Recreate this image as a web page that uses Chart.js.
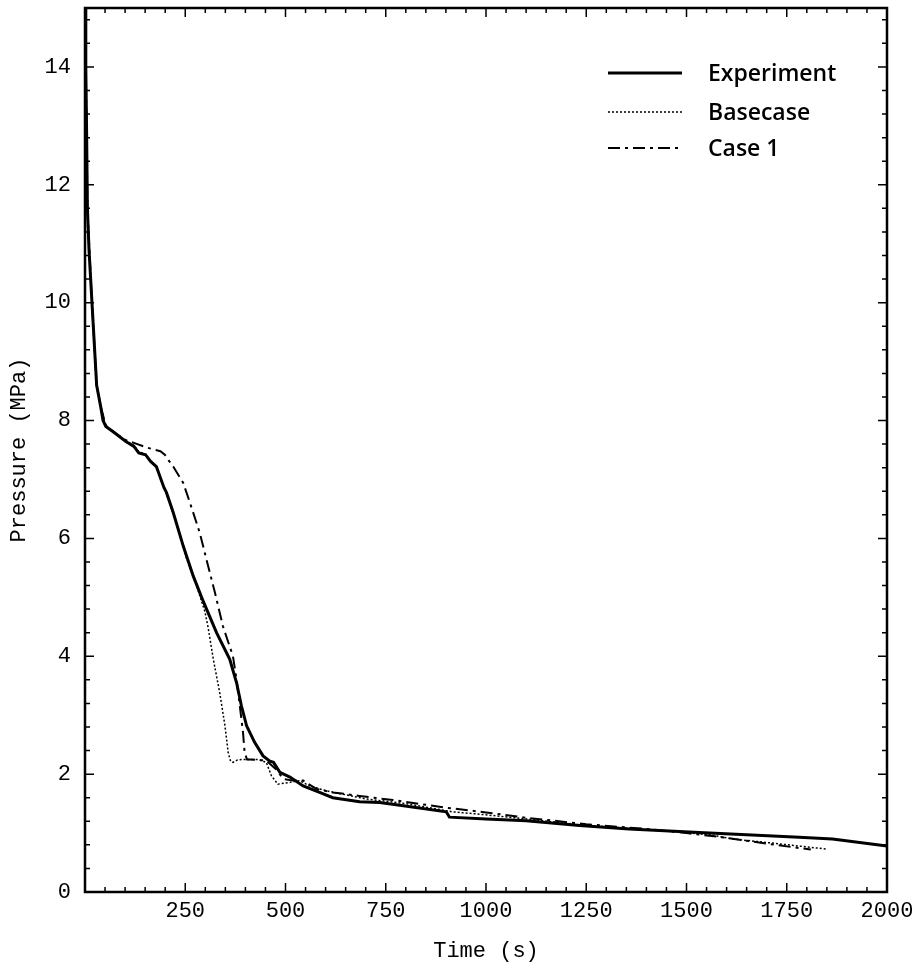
<!DOCTYPE html>
<html>
<head>
<meta charset="utf-8">
<script src="https://cdn.jsdelivr.net/npm/chart.js@4.4.1/dist/chart.umd.min.js"></script>
<style>
  html, body { margin: 0; padding: 0; background: #fff; }
  #wrap { width: 923px; height: 970px; }
</style>
</head>
<body>
<div id="wrap"><canvas id="pressure-chart"></canvas></div>
<script>
// values (time in s, pressure in MPa)
const seriesNames = ['Experiment', 'Basecase', 'Case 1'];

const expTime = [0, 2, 4, 6, 10, 17, 29, 39, 45, 52, 72, 101, 122, 134, 151, 163, 178, 197, 203, 220, 245, 270, 295, 328, 361, 378, 390, 403, 423, 444, 461, 470, 486, 511, 544, 585, 618, 685, 735, 776, 901, 909, 1000, 1100, 1233, 1357, 1532, 1781, 1864, 2000];
const expPressure = [15.0, 14.0, 12.9, 11.6, 10.9, 10.05, 8.6, 8.24, 8.0, 7.9, 7.8, 7.65, 7.56, 7.45, 7.42, 7.31, 7.22, 6.86, 6.78, 6.44, 5.87, 5.36, 4.93, 4.4, 3.95, 3.55, 3.16, 2.82, 2.54, 2.31, 2.22, 2.2, 2.03, 1.95, 1.8, 1.69, 1.6, 1.53, 1.52, 1.48, 1.36, 1.27, 1.24, 1.21, 1.13, 1.07, 1.01, 0.93, 0.9, 0.78];

const baseTime = [0, 4, 6, 17, 29, 39, 52, 72, 101, 122, 134, 151, 163, 178, 203, 220, 245, 253, 278, 299, 307, 320, 336, 349, 357, 363, 369, 380, 394, 432, 452, 465, 481, 511, 535, 560, 600, 700, 800, 917, 984, 1100, 1250, 1400, 1560, 1614, 1700, 1780, 1847];
const basePressure = [15.0, 12.9, 11.6, 10.05, 8.6, 8.24, 7.9, 7.8, 7.66, 7.58, 7.47, 7.43, 7.32, 7.2, 6.76, 6.42, 5.87, 5.66, 5.2, 4.76, 4.49, 3.95, 3.38, 2.82, 2.37, 2.22, 2.2, 2.24, 2.25, 2.25, 2.2, 1.97, 1.83, 1.86, 1.89, 1.8, 1.72, 1.58, 1.5, 1.36, 1.32, 1.24, 1.13, 1.06, 0.97, 0.9, 0.84, 0.78, 0.73];

const case1Time = [0, 4, 6, 17, 29, 39, 52, 72, 101, 122, 155, 188, 199, 213, 220, 245, 262, 286, 303, 324, 344, 369, 378, 386, 394, 398, 404, 411, 452, 477, 494, 519, 544, 577, 618, 685, 768, 901, 1000, 1100, 1250, 1400, 1500, 1600, 1700, 1810];
const case1Pressure = [15.0, 12.9, 11.6, 10.05, 8.6, 8.24, 7.92, 7.8, 7.67, 7.62, 7.54, 7.48, 7.42, 7.28, 7.22, 6.94, 6.6, 6.1, 5.64, 5.08, 4.51, 4.0, 3.6, 3.16, 2.71, 2.37, 2.25, 2.25, 2.23, 2.08, 1.92, 1.89, 1.89, 1.75, 1.69, 1.63, 1.56, 1.43, 1.35, 1.26, 1.15, 1.07, 1.0, 0.92, 0.82, 0.72];

function toPoints(xs, ys) {
  return xs.map((t, i) => ({ x: t, y: ys[i] }));
}

const tickFont = { family: 'Liberation Mono', size: 22 };

// inward tick marks on all four sides + the frame, like the original plot
const frameTicks = {
  id: 'frameTicks',
  afterDatasetsDraw(chart) {
    const { ctx, chartArea: a, scales } = chart;
    const x = scales.x, y = scales.y;
    ctx.save();
    ctx.strokeStyle = '#000';
    ctx.lineWidth = 1.5;
    ctx.beginPath();
    for (let t = 0; t <= 2000; t += 50) {
      const px = x.getPixelForValue(t);
      const len = t % 250 === 0 ? 9 : 5;
      ctx.moveTo(px, a.bottom); ctx.lineTo(px, a.bottom - len);
      ctx.moveTo(px, a.top); ctx.lineTo(px, a.top + len);
    }
    for (let i = 0; i <= 37; i++) {
      const py = y.getPixelForValue(i * 0.4);
      const len = i % 5 === 0 ? 9 : 5;
      ctx.moveTo(a.left, py); ctx.lineTo(a.left + len, py);
      ctx.moveTo(a.right, py); ctx.lineTo(a.right - len, py);
    }
    ctx.stroke();
    ctx.lineWidth = 2.5;
    ctx.strokeRect(a.left, a.top, a.right - a.left, a.bottom - a.top);
    ctx.restore();
  }
};

// legend drawn inside the plot, top right
const insideLegend = {
  id: 'insideLegend',
  afterDraw(chart) {
    const ctx = chart.ctx;
    const rows = [73, 112, 148];
    ctx.save();
    chart.data.datasets.forEach((ds, i) => {
      const yy = rows[i];
      ctx.strokeStyle = ds.borderColor;
      ctx.lineWidth = ds.borderWidth;
      ctx.setLineDash(ds.borderDash || []);
      ctx.beginPath();
      ctx.moveTo(608, yy);
      ctx.lineTo(682, yy);
      ctx.stroke();
      ctx.setLineDash([]);
      ctx.fillStyle = '#000';
      ctx.font = '600 23px "Open Sans"';
      ctx.textBaseline = 'middle';
      ctx.fillText(ds.label, 708, yy + 1);
    });
    ctx.restore();
  }
};

const ctx = document.getElementById('pressure-chart');

new Chart(ctx, {
  type: 'line',
  data: {
    datasets: [
      {
        label: seriesNames[0],
        data: toPoints(expTime, expPressure),
        borderColor: '#000',
        borderWidth: 3,
        pointRadius: 0,
        tension: 0
      },
      {
        label: seriesNames[1],
        data: toPoints(baseTime, basePressure),
        borderColor: '#000',
        borderWidth: 1.5,
        borderDash: [2, 2],
        pointRadius: 0,
        tension: 0
      },
      {
        label: seriesNames[2],
        data: toPoints(case1Time, case1Pressure),
        borderColor: '#000',
        borderWidth: 2,
        borderDash: [12, 5, 3, 5],
        pointRadius: 0,
        tension: 0
      }
    ]
  },
  options: {
    responsive: true,
    maintainAspectRatio: false,
    animation: false,
    layout: { padding: { top: 8, right: 36, left: 0, bottom: 0 } },
    plugins: {
      legend: { display: false },
      tooltip: { enabled: false }
    },
    scales: {
      x: {
        type: 'linear',
        min: 0,
        max: 2000,
        grid: { display: false, drawTicks: false },
        border: { display: false },
        ticks: {
          stepSize: 250,
          includeBounds: false,
          autoSkip: false,
          maxRotation: 0,
          padding: 6,
          color: '#000',
          font: tickFont,
          callback: v => (v === 0 ? '' : v)
        },
        title: {
          display: true,
          text: 'Time (s)',
          color: '#000',
          font: tickFont,
          padding: { top: 0, bottom: 6 }
        },
        afterFit(scale) {
          scale.height = 78;
          scale.paddingLeft = 0;
          scale.paddingRight = 0;
        }
      },
      y: {
        min: 0,
        max: 15,
        grid: { display: false, drawTicks: false },
        border: { display: false },
        ticks: {
          stepSize: 2,
          includeBounds: false,
          autoSkip: false,
          padding: 14,
          color: '#000',
          font: tickFont
        },
        title: {
          display: true,
          text: 'Pressure (MPa)',
          color: '#000',
          font: tickFont,
          padding: { top: 6, bottom: 0 }
        },
        afterFit(scale) {
          scale.width = 85;
          scale.paddingTop = 0;
          scale.paddingBottom = 0;
        }
      }
    }
  },
  plugins: [frameTicks, insideLegend]
});
</script>
</body>
</html>
